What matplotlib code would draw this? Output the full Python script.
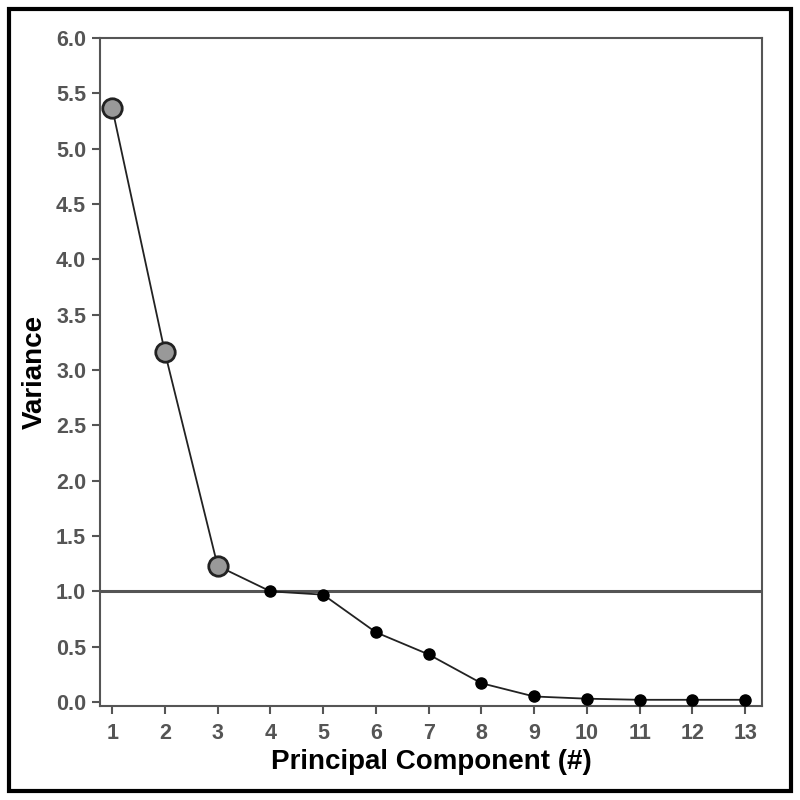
import matplotlib.pyplot as plt
from matplotlib.patches import Rectangle

components = [1, 2, 3, 4, 5, 6, 7, 8, 9, 10, 11, 12, 13]
variance = [5.37, 3.16, 1.23, 1.00, 0.97, 0.63, 0.43, 0.17, 0.05, 0.03, 0.02, 0.02, 0.02]
n_retained = 3
cutoff = 1.0
y_ticks = [0.0, 0.5, 1.0, 1.5, 2.0, 2.5, 3.0, 3.5, 4.0, 4.5, 5.0, 5.5, 6.0]

plt.rcParams["font.family"] = ["Liberation Sans", "DejaVu Sans"]

fig = plt.figure(figsize=(8, 8), dpi=100)
ax = fig.add_axes([0.125, 0.1175, 0.8275, 0.835])

grey = "#555555"
ax.axhline(cutoff, color="#555555", lw=2.2, zorder=1)
ax.plot(components, variance, color="#222222", lw=1.3, zorder=2)
ax.plot(components[n_retained:], variance[n_retained:], "o", ms=8,
        color="black", zorder=3)
ax.plot(components[:n_retained], variance[:n_retained], "o", ms=14,
        markerfacecolor="#999999", markeredgecolor="#222222", mew=2, zorder=4)

ax.set_xlim(0.77, 13.32)
ax.set_ylim(-0.036, 6.0)
ax.set_xticks(components)
ax.set_yticks(y_ticks)
ax.set_yticklabels([f"{v:.1f}" for v in y_ticks])
ax.tick_params(direction="out", length=6, width=1.5, color=grey,
               labelcolor=grey, labelsize=15.5)
ax.tick_params(axis="x", pad=6)
ax.tick_params(axis="y", pad=4)
for lab in ax.get_xticklabels() + ax.get_yticklabels():
    lab.set_fontweight("bold")
for s in ax.spines.values():
    s.set_color(grey)
    s.set_linewidth(1.5)

ax.set_xlabel("Principal Component (#)", fontsize=20, fontweight="bold",
              labelpad=4)
ax.set_ylabel("Variance", fontsize=20, fontweight="bold", labelpad=6)

fig.patches.append(Rectangle((0.011, 0.011), 0.978, 0.978, transform=fig.transFigure,
                             fill=False, edgecolor="black", lw=3))

fig.savefig("out.png", dpi=100)
